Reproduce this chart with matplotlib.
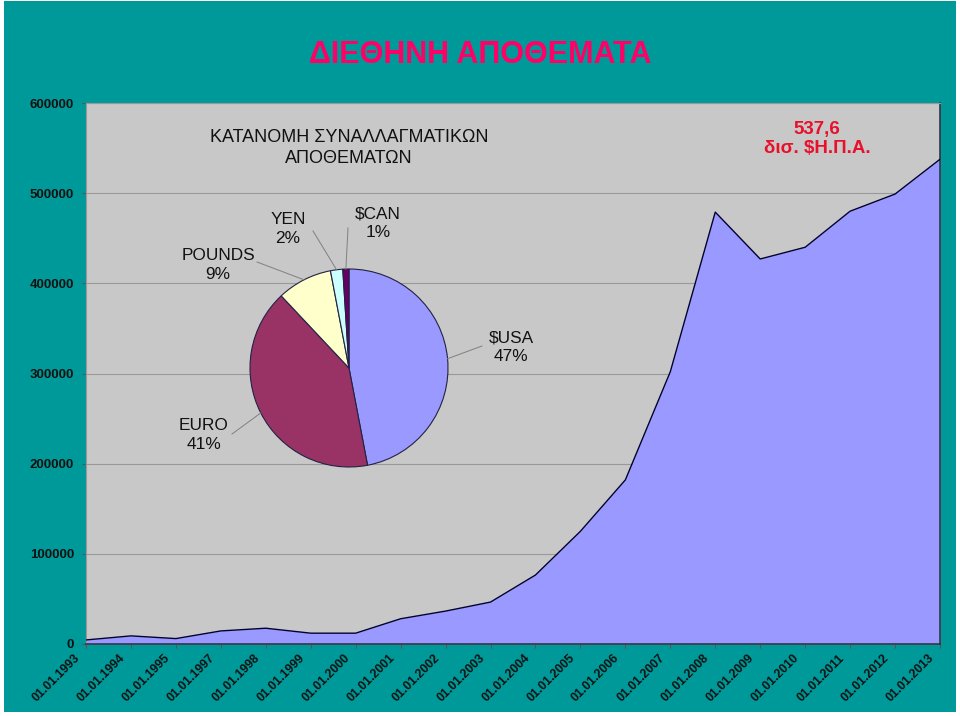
import matplotlib
matplotlib.use("Agg")
import matplotlib.pyplot as plt
import matplotlib.transforms as mtransforms
from matplotlib.patches import Rectangle
import numpy as np

# ---- data ----
dates = ["01.01.1993", "01.01.1994", "01.01.1995", "01.01.1997", "01.01.1998",
         "01.01.1999", "01.01.2000", "01.01.2001", "01.01.2002", "01.01.2003",
         "01.01.2004", "01.01.2005", "01.01.2006", "01.01.2007", "01.01.2008",
         "01.01.2009", "01.01.2010", "01.01.2011", "01.01.2012", "01.01.2013"]
reserves = [4500, 9000, 6000, 14500, 17500, 12000, 12000, 28000, 36500, 46500,
            76500, 125000, 182000, 302000, 479000, 427000, 440000, 480000, 499000, 537600]
y_ticks = [0, 100000, 200000, 300000, 400000, 500000, 600000]

pie_labels = ["$USA", "EURO", "POUNDS", "YEN", "$CAN"]
pie_shares = [47, 41, 9, 2, 1]
pie_colors = ["#9999FF", "#993366", "#FFFFCC", "#CCFFFF", "#660066"]

TEAL = "#009999"
PLOTBG = "#C8C8C8"
FONT = ["Liberation Sans", "DejaVu Sans"]

fig = plt.figure(figsize=(9.6, 7.16), dpi=100, facecolor="white")
fig.add_artist(Rectangle((4/960, 1-712/716), (956-4)/960, (712-1)/716,
                         transform=fig.transFigure, facecolor=TEAL,
                         edgecolor="none", zorder=-10))

ax = fig.add_axes([86/960, 1-644/716, (940-86)/960, (644-103)/716])
ax.set_facecolor(PLOTBG)
x = np.arange(len(reserves))
ax.fill_between(x, 0, reserves, color="#9999FF", zorder=2, linewidth=0)
ax.plot(x, reserves, color="#000033", lw=1.0, zorder=3)
ax.set_xlim(0, len(reserves) - 1)
ax.set_ylim(0, 600000)
ax.set_yticks(y_ticks)
ax.set_yticklabels([str(v) for v in y_ticks], fontfamily=FONT, fontweight="bold",
                   fontsize=9.5, color="#111111")
ax.set_xticks(x)
ax.set_xticklabels([])
shift = mtransforms.ScaledTranslation(-12/100, -8/100, fig.dpi_scale_trans)
for xi, lab in zip(x, dates):
    ax.text(xi, 0, lab, transform=ax.get_xaxis_transform() + shift,
            rotation=45, ha="right", va="top", rotation_mode="anchor",
            fontfamily=FONT, fontweight="bold", fontsize=8.8, color="#111111",
            clip_on=False)
ax.tick_params(axis="both", length=3, color="#555555", width=0.8)
ax.tick_params(axis="y", pad=5.5)
ax.grid(axis="y", color="#999999", lw=0.8, zorder=1)
ax.set_axisbelow(True)
for s in ["top", "left"]:
    ax.spines[s].set_color("#999999")
for s in ["right", "bottom"]:
    ax.spines[s].set_color("#333344")
    ax.spines[s].set_linewidth(1.2)

# title
fig.text(0.5, 1-55/716, "ΔΙΕΘΗΝΗ ΑΠΟΘΕΜΑΤΑ", ha="center", va="center",
         fontsize=22, fontweight="bold", color="#FF0066", family=FONT)

# annotation
ax.text((817-86)/854, (644-139)/541, "537,6\nδισ. $Η.Π.Α.", transform=ax.transAxes,
        ha="center", va="center", fontsize=13.5, fontweight="bold", color="#E8102A",
        family=FONT, linespacing=1.1)

# pie inset
cx, cy, r = 349, 368, 99
pax = fig.add_axes([(cx - r)/960, 1-(cy + r)/716, 2*r/960, 2*r/716])
pax.set_aspect("equal")
wedges, _ = pax.pie(pie_shares, colors=pie_colors, startangle=90, counterclock=False,
                    wedgeprops=dict(edgecolor="#222244", linewidth=0.8), radius=1.0)
pax.set_xlim(-1.0, 1.0)
pax.set_ylim(-1.0, 1.0)
pax.axis("off")

fig.text(cx/960, 1-148/716, "ΚΑΤΑΝΟΜΗ ΣΥΝΑΛΛΑΓΜΑΤΙΚΩΝ\nΑΠΟΘΕΜΑΤΩΝ", ha="center",
         va="center", fontsize=13, family=FONT, color="#111111", linespacing=1.25)

label_pos = {"$USA": (511, 347), "EURO": (204, 435), "POUNDS": (218, 265),
             "YEN": (288, 229), "$CAN": (378, 223)}
line_end = {"$USA": (482, 346), "EURO": (232, 434), "POUNDS": (257, 262),
            "YEN": (313, 231), "$CAN": (348, 228)}
for w, lab, sh in zip(wedges, pie_labels, pie_shares):
    ang = np.deg2rad((w.theta1 + w.theta2) / 2)
    px = cx + r * np.cos(ang)
    py = cy - r * np.sin(ang)
    ex, ey = line_end[lab]
    fig.add_artist(plt.Line2D([px/960, ex/960], [1-py/716, 1-ey/716],
                              transform=fig.transFigure, color="#808080", lw=0.7))
    lx, ly = label_pos[lab]
    fig.text(lx/960, 1-ly/716, f"{lab}\n{sh}%", ha="center", va="center",
             fontsize=12.4, family=FONT, color="#111111", linespacing=1.3)

fig.savefig("out.png", dpi=100, facecolor="white")
